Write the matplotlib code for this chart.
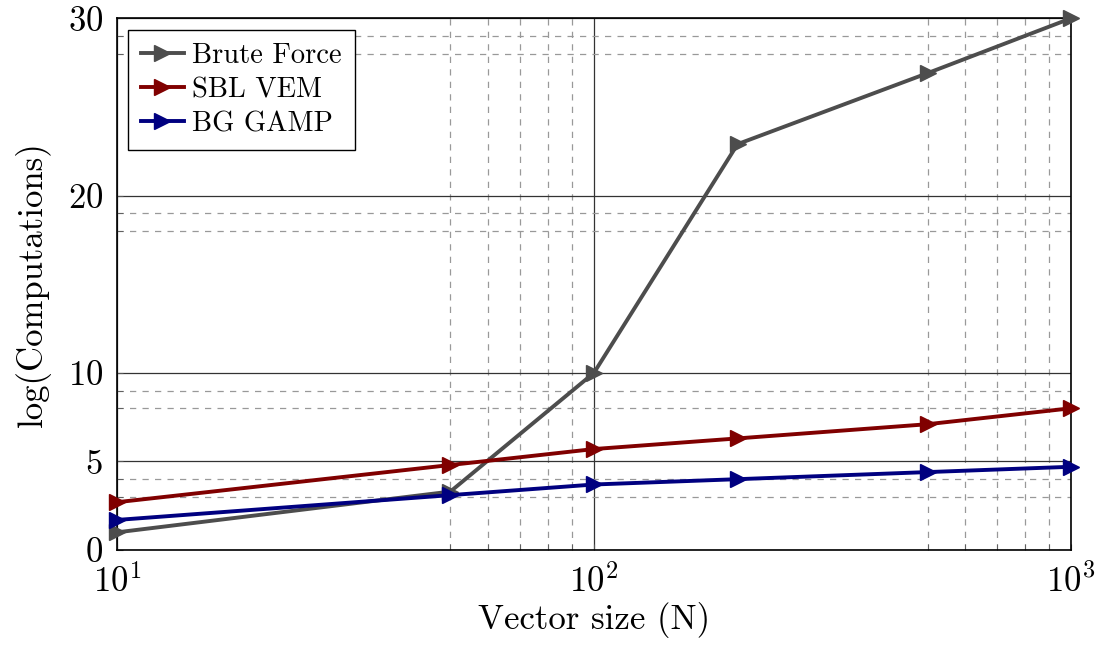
import matplotlib.pyplot as plt
from matplotlib.ticker import FixedLocator, NullFormatter

plt.rcParams['font.family'] = 'serif'
plt.rcParams['font.serif'] = ['cmr10']
plt.rcParams['mathtext.fontset'] = 'cm'
plt.rcParams['axes.formatter.use_mathtext'] = True

# data
N = [10, 50, 100, 200, 500, 1000]
brute_force = [1.0, 3.3, 10.0, 22.9, 26.9, 30.0]
sbl_vem = [2.7, 4.8, 5.7, 6.3, 7.1, 8.0]
bg_gamp = [1.7, 3.1, 3.7, 4.0, 4.4, 4.7]

y_major = [0, 5, 10, 20, 30]
y_minor = [3, 4, 8, 9, 18, 19, 28, 29]
x_major = [10, 100, 1000]
x_minor = [50, 60, 70, 80, 90, 500, 600, 700, 800, 900]

fig = plt.figure(figsize=(11.02, 6.51), dpi=100)
ax = fig.add_axes([0.106, 0.155, 0.866, 0.817])

series = [
    (brute_force, 'Brute Force', '#4d4d4d'),
    (sbl_vem, 'SBL VEM', '#800000'),
    (bg_gamp, 'BG GAMP', '#000080'),
]
for vals, name, col in series:
    ax.plot(N, vals, color=col, lw=2.8, marker='>', ms=12, label=name,
            clip_on=False, zorder=3)

ax.set_xscale('log')
ax.set_xlim(10, 1000)
ax.set_ylim(0, 30)
ax.xaxis.set_major_locator(FixedLocator(x_major))
ax.xaxis.set_minor_locator(FixedLocator(x_minor))
ax.xaxis.set_minor_formatter(NullFormatter())
ax.yaxis.set_major_locator(FixedLocator(y_major))
ax.yaxis.set_minor_locator(FixedLocator(y_minor))

ax.grid(which='major', color='#333333', lw=0.9, ls='-')
ax.grid(which='minor', color='#999999', lw=0.9, ls=(0, (5, 5)))
ax.set_axisbelow(True)

ax.tick_params(which='both', direction='in', labelsize=25, length=4, color='#555555')
ax.tick_params(axis='y', which='major', pad=10)
ax.tick_params(axis='x', which='major', pad=10)
for s in ax.spines.values():
    s.set_linewidth(1.2)

ax.set_xlabel('Vector size (N)', fontsize=25, labelpad=2)
ax.set_ylabel('log(Computations)', fontsize=25, labelpad=12)

leg = ax.legend(loc='upper left', fontsize=20.5, fancybox=False, framealpha=1,
                edgecolor='black', borderaxespad=0.4, handlelength=1.5,
                handletextpad=0.3, labelspacing=0.28, borderpad=0.45)
leg.get_frame().set_linewidth(1.0)

fig.savefig('out.png', dpi=100)
